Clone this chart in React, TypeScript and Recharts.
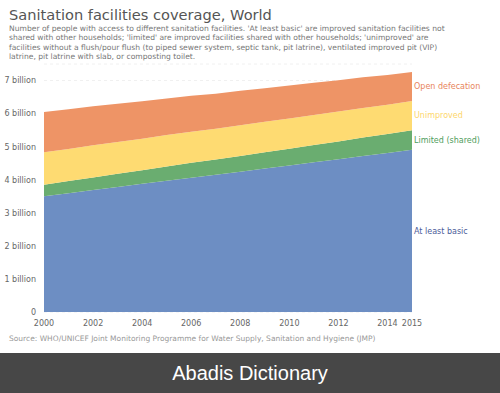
import React from "react"
import { AreaChart, Area, XAxis, YAxis, CartesianGrid, ReferenceDot } from "recharts"

// values in billions of people
const years = [2000, 2001, 2002, 2003, 2004, 2005, 2006, 2007, 2008, 2009, 2010, 2011, 2012, 2013, 2014, 2015]
const atLeastBasic = [3.5, 3.59, 3.69, 3.78, 3.88, 3.97, 4.06, 4.15, 4.24, 4.34, 4.43, 4.53, 4.62, 4.72, 4.81, 4.91]
const limited = [0.35, 0.37, 0.38, 0.4, 0.41, 0.43, 0.45, 0.46, 0.48, 0.49, 0.51, 0.52, 0.54, 0.56, 0.57, 0.59]
const unimproved = [0.98, 0.97, 0.97, 0.96, 0.95, 0.95, 0.94, 0.93, 0.93, 0.92, 0.91, 0.91, 0.9, 0.89, 0.89, 0.88]
const openDefecation = [1.22, 1.2, 1.18, 1.16, 1.13, 1.11, 1.09, 1.06, 1.04, 1.02, 1.0, 0.97, 0.95, 0.93, 0.9, 0.88]

const xTicks = [2000, 2002, 2004, 2006, 2008, 2010, 2012, 2014, 2015]
const yTicks = [0, 1, 2, 3, 4, 5, 6, 7]

const subtitleLines = [
  "Number of people with access to different sanitation facilities. 'At least basic' are improved sanitation facilities not",
  "shared with other households; 'limited' are improved facilities shared with other households; 'unimproved' are",
  "facilities without a flush/pour flush (to piped sewer system, septic tank, pit latrine), ventilated improved pit (VIP)",
  "latrine, pit latrine with slab, or composting toilet.",
]

const series = [
  { key: "basic", name: "At least basic", values: atLeastBasic, fill: "#6d8ec3", text: "#4c5c9a" },
  { key: "limited", name: "Limited (shared)", values: limited, fill: "#6aad70", text: "#4f9d5d" },
  { key: "unimproved", name: "Unimproved", values: unimproved, fill: "#fedb72", text: "#fdd66b" },
  { key: "open", name: "Open defecation", values: openDefecation, fill: "#ee9466", text: "#e8845c" },
]

const data = years.map((year, i) => {
  const row: Record<string, number> = { year }
  series.forEach((s) => (row[s.key] = s.values[i]))
  return row
})

// label sits in the middle of each band at the last year
const last = years.length - 1
let running = 0
const labelPoints = series.map((s) => {
  const low = running
  running += s.values[last]
  return { ...s, mid: (low + running) / 2 }
})

const font = "'DejaVu Sans', sans-serif"

export default function App() {
  return (
    <div style={{ position: "fixed", left: 0, top: 0, width: 500, height: 393, background: "#fff", fontFamily: font }}>
      <div style={{ position: "absolute", left: 9, top: 6, fontSize: 14.6, color: "#555", whiteSpace: "nowrap" }}>
        Sanitation facilities coverage, World
      </div>
      {subtitleLines.map((line, i) => (
        <div
          key={i}
          style={{ position: "absolute", left: 9, top: 24 + i * 9.3, fontSize: 7.6, lineHeight: "9px", color: "#777", whiteSpace: "nowrap" }}
        >
          {line}
        </div>
      ))}
      <AreaChart
        width={500}
        height={353}
        data={data}
        margin={{ top: 64, right: 88, bottom: 21, left: 0 }}
        style={{ position: "absolute", left: 0, top: 0 }}
      >
        <CartesianGrid vertical={false} stroke="#f0f0f0" strokeDasharray="3 3" />
        <XAxis
          dataKey="year"
          type="number"
          domain={[2000, 2015]}
          ticks={xTicks}
          axisLine={false}
          tickLine={false}
          height={20}
          tick={{ fontSize: 8, fill: "#666", fontFamily: font }}
          interval={0}
        />
        <YAxis
          type="number"
          domain={[0, 7.5]}
          ticks={yTicks}
          axisLine={false}
          tickLine={false}
          width={44}
          tickMargin={2}
          tick={{ fontSize: 8, fill: "#666", fontFamily: font, width: 80 }}
          tickFormatter={(v: number) => (v === 0 ? "0" : `${v} billion`)}
        />
        {series.map((s) => (
          <Area
            key={s.key}
            dataKey={s.key}
            stackId="a"
            type="linear"
            stroke="none"
            fill={s.fill}
            fillOpacity={1}
            isAnimationActive={false}
          />
        ))}
        {labelPoints.map((s) => (
          <ReferenceDot
            key={s.key}
            x={years[last]}
            y={s.mid}
            r={0}
            fill="none"
            stroke="none"
            label={{ value: s.name, position: "right", offset: 2, fill: s.text, fontSize: 8, fontFamily: font }}
          />
        ))}
      </AreaChart>
      <div style={{ position: "absolute", left: 9, top: 334, fontSize: 7.5, color: "#999", whiteSpace: "nowrap" }}>
        Source: WHO/UNICEF Joint Monitoring Programme for Water Supply, Sanitation and Hygiene (JMP)
      </div>
      <div
        style={{
          position: "absolute",
          left: 0,
          top: 353,
          width: 500,
          height: 40,
          background: "#474747",
          color: "#fff",
          fontFamily: "'Liberation Sans', Arial, sans-serif",
          fontSize: 20,
          lineHeight: "40px",
          textAlign: "center",
        }}
      >
        Abadis Dictionary
      </div>
    </div>
  )
}
